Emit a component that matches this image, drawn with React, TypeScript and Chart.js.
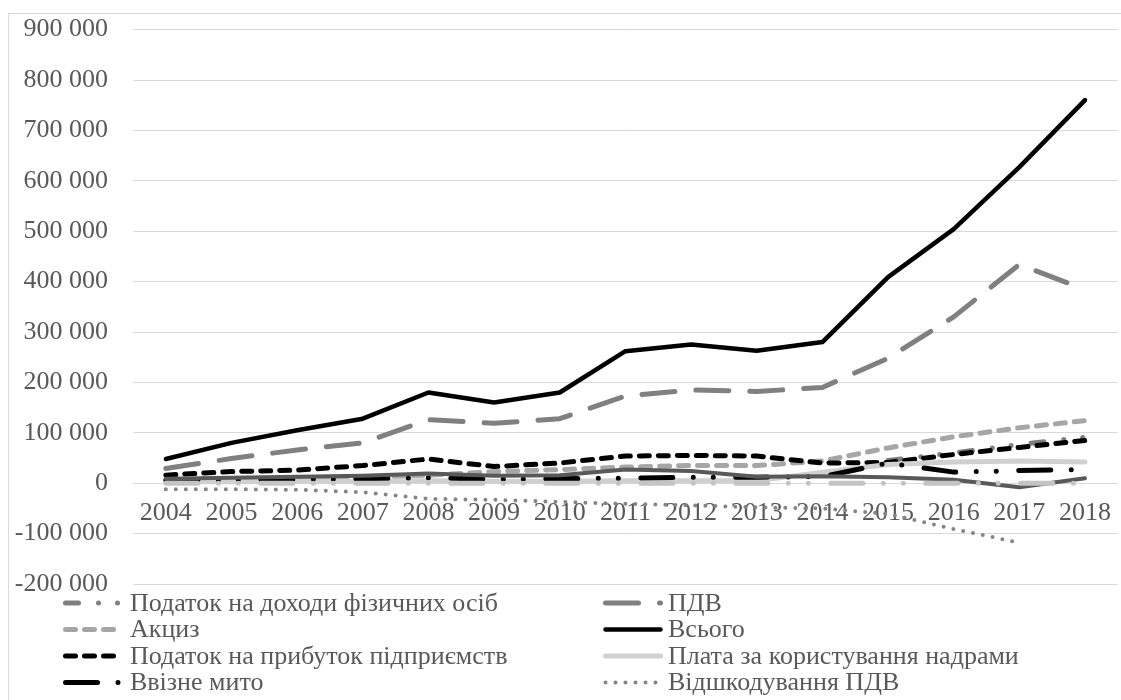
import React, { useEffect, useRef } from 'react';
import { Chart, registerables } from 'chart.js';

Chart.register(...registerables);

const years = ['2004', '2005', '2006', '2007', '2008', '2009', '2010', '2011', '2012', '2013', '2014', '2015', '2016', '2017', '2018'];

const pdfo = [null, null, null, null, null, null, null, null, null, null, null, 45000, 60000, 77000, 91000];
const pdv = [29000, 49000, 66000, 80000, 126000, 119000, 128000, 173000, 185000, 182000, 190000, 248000, 330000, 434000, 384000];
const excise = [6000, 8000, 10000, 12000, 16000, 23000, 27000, 32000, 35000, 35000, 44000, 70000, 92000, 110000, 124000];
const total = [48000, 80000, 105000, 128000, 180000, 160000, 180000, 262000, 275000, 263000, 280000, 409000, 504000, 627000, 760000];
const profitTax = [16000, 23000, 26000, 35000, 48000, 33000, 40000, 54000, 55000, 54000, 40000, 41000, 57000, 71000, 85000];
const subsoil = [3000, 3000, 4000, 4000, 5000, 4000, 4000, 5000, 5000, 5000, 22000, 37000, 42000, 44000, 42000];
const importDuty = [6000, 7000, 8000, 9000, 11000, 8000, 9000, 10000, 12000, 12000, 13000, 40000, 22000, 25000, 27000];
const vatRefund = [-12000, -12000, -13000, -18000, -31000, -33000, -37000, -41000, -44000, -48000, -50000, -61000, -91000, -118000, null];
const otherSeries = [9000, 11000, 13000, 15000, 19000, 15000, 16000, 27000, 24000, 13000, 14000, 12000, 7000, -8000, 10000];
const zeroSeries = [0, 0, 0, 0, 0, 0, 0, 0, 0, 0, 0, 0, 0, 0, 0];

const labels = [
  'Податок на доходи фізичних осіб',
  'ПДВ',
  'Акциз',
  'Всього',
  'Податок на прибуток підприємств',
  'Плата за користування надрами',
  'Ввізне мито',
  'Відшкодування ПДВ',
];

const yMin = -200000;
const yMax = 900000;
const yStep = 100000;

const FONT = '"Times New Roman", "Liberation Serif", serif';
const TEXT = '#595959';

function fmt(v: number): string {
  const s = String(Math.abs(v)).replace(/\B(?=(\d{3})+(?!\d))/g, ' ');
  return (v < 0 ? '-' : '') + s;
}

const legendPlugin = {
  id: 'customLegend',
  afterDraw(chart: any) {
    const ctx = chart.ctx as CanvasRenderingContext2D;
    const rows = [589, 615.5, 642, 668.5];
    const cols = [{ sx: 56.5, tx: 121 }, { sx: 596.5, tx: 659 }];
    const sampleLen = 55;
    ctx.save();
    chart.data.datasets.forEach((ds: any, i: number) => {
      if (i >= labels.length) return;
      const row = Math.floor(i / 2);
      const col = cols[i % 2];
      const y = rows[row];
      ctx.beginPath();
      ctx.strokeStyle = ds.borderColor;
      ctx.lineWidth = ds.borderWidth;
      ctx.lineCap = 'round';
      ctx.setLineDash(ds.borderDash || []);
      ctx.moveTo(col.sx, y);
      ctx.lineTo(col.sx + sampleLen, y);
      ctx.stroke();
      ctx.setLineDash([]);
      ctx.fillStyle = TEXT;
      ctx.font = `26px ${FONT}`;
      ctx.textBaseline = 'middle';
      ctx.textAlign = 'left';
      ctx.fillText(ds.label, col.tx, y + 1);
    });
    ctx.restore();
  },
};

function line(label: string, data: (number | null)[], color: string, width: number, dash: number[]) {
  return {
    label,
    data,
    borderColor: color,
    backgroundColor: color,
    borderWidth: width,
    borderDash: dash,
    borderCapStyle: 'round' as const,
    borderJoinStyle: 'round' as const,
    pointRadius: 0,
    pointHoverRadius: 0,
    tension: 0,
    fill: false,
    spanGaps: false,
  };
}

export default function App() {
  const ref = useRef<HTMLCanvasElement | null>(null);

  useEffect(() => {
    if (!ref.current) return;
    const longDashDotDot = [32, 20.5, 0, 20, 0, 22.5];
    const datasets: any[] = [
      line(labels[0], pdfo, '#7f7f7f', 5, [13, 20, 0, 19, 0, 20]),
      line(labels[1], pdv, '#808080', 5, [33, 21]),
      line(labels[2], excise, '#a6a6a6', 5, [10, 9]),
      line(labels[3], total, '#000000', 4.5, []),
      line(labels[4], profitTax, '#000000', 5, [10, 9]),
      line(labels[5], subsoil, '#d0d0d0', 5, []),
      line(labels[6], importDuty, '#000000', 5, longDashDotDot),
      line(labels[7], vatRefund, '#858585', 4, [0, 10]),
      line('', otherSeries, '#595959', 4, []),
      line('', zeroSeries, '#c4c4c4', 5, longDashDotDot),
    ];
    const n = datasets.length;
    datasets.forEach((d, i) => (d.order = n - i));

    const chart = new Chart(ref.current, {
      type: 'line',
      data: { labels: years, datasets },
      options: {
        responsive: false,
        animation: false,
        layout: { padding: { top: 14, bottom: 116, left: 0, right: 0 } },
        plugins: {
          legend: { display: false },
          tooltip: { enabled: false },
        },
        scales: {
          x: {
            type: 'category',
            position: { y: 0 } as any,
            offset: true,
            grid: { display: false, drawTicks: false },
            border: { display: false },
            ticks: {
              font: { family: FONT, size: 26 },
              color: TEXT,
              padding: 14,
              autoSkip: false,
              maxRotation: 0,
              minRotation: 0,
            },
          },
          y: {
            min: yMin,
            max: yMax,
            grid: { color: '#d9d9d9', lineWidth: 1, drawTicks: true, tickLength: 25, tickColor: 'rgba(0,0,0,0)' },
            border: { display: false },
            ticks: {
              stepSize: yStep,
              font: { family: FONT, size: 26 },
              color: TEXT,
              padding: 0,
              callback: (v: any) => fmt(Number(v)),
            },
            afterFit: (s: any) => {
              s.width = 124;
            },
          },
        },
      },
      plugins: [legendPlugin],
    });
    return () => chart.destroy();
  }, []);

  return (
    <div style={{ position: 'fixed', left: 0, top: 0, width: '100vw', height: '100vh', overflow: 'hidden', background: '#fff' }}>
      <div style={{ position: 'absolute', left: 8, top: 13, width: 1140, height: 720, border: '1px solid #d9d9d9' }}>
        <canvas ref={ref} width={1116} height={686} style={{ display: 'block', width: 1116, height: 686 }} />
      </div>
    </div>
  );
}
